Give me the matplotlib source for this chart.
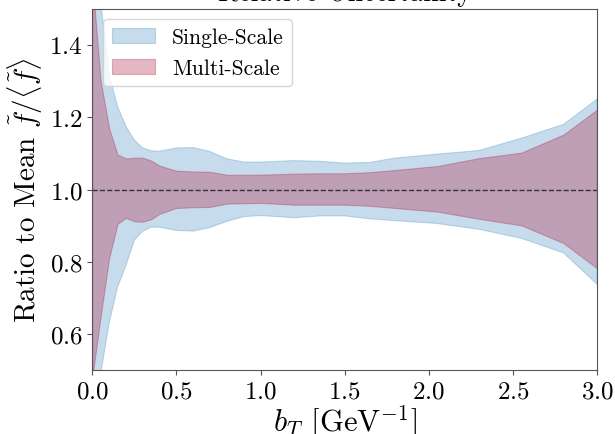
import matplotlib

matplotlib.use("Agg")
import matplotlib.pyplot as plt

# b_T grid [GeV^-1] and band edges (ratio to mean)
b_t = [0.0, 0.05, 0.1, 0.15, 0.2, 0.25, 0.3, 0.35, 0.4, 0.5, 0.6, 0.7, 0.8,
       0.9, 1.0, 1.2, 1.35, 1.5, 1.65, 1.8, 2.05, 2.3, 2.55, 2.8, 3.0]

single_hi = [1.75, 1.52, 1.32, 1.23, 1.175, 1.137, 1.115, 1.107, 1.106, 1.115,
             1.116, 1.105, 1.085, 1.076, 1.076, 1.08, 1.078, 1.073, 1.075,
             1.087, 1.098, 1.108, 1.142, 1.18, 1.25]
single_lo = [0.30, 0.49, 0.63, 0.73, 0.79, 0.86, 0.885, 0.896, 0.896, 0.887,
             0.885, 0.895, 0.912, 0.925, 0.928, 0.922, 0.927, 0.927, 0.919,
             0.914, 0.906, 0.89, 0.865, 0.825, 0.738]

multi_hi = [1.58, 1.30, 1.17, 1.097, 1.086, 1.088, 1.088, 1.08, 1.066, 1.052,
            1.05, 1.049, 1.041, 1.041, 1.041, 1.044, 1.045, 1.045, 1.048,
            1.054, 1.065, 1.087, 1.102, 1.152, 1.221]
multi_lo = [0.48, 0.65, 0.81, 0.905, 0.922, 0.912, 0.911, 0.918, 0.933, 0.949,
            0.951, 0.952, 0.961, 0.962, 0.963, 0.958, 0.958, 0.958, 0.955,
            0.949, 0.939, 0.919, 0.901, 0.852, 0.782]

plt.rcParams["font.family"] = "serif"
plt.rcParams["font.serif"] = ["cmr10"]
plt.rcParams["mathtext.fontset"] = "cm"
plt.rcParams["axes.formatter.use_mathtext"] = True

fig = plt.figure(figsize=(6.15, 4.35), dpi=100)
ax = fig.add_axes([0.150, 0.146, 0.821, 0.832])

ax.fill_between(b_t, single_lo, single_hi, color="#1f77b4", alpha=0.25,
                lw=0.8, label="Single-Scale")
ax.fill_between(b_t, multi_lo, multi_hi, color="#ac123a", alpha=0.3,
                lw=0.8, label="Multi-Scale")
ax.axhline(1.0, color="#333333", ls="--", lw=1.0)

ax.set_xlim(0, 3)
ax.set_ylim(0.5, 1.5)
ax.set_xticks([0.0, 0.5, 1.0, 1.5, 2.0, 2.5, 3.0])
ax.set_yticks([0.6, 0.8, 1.0, 1.2, 1.4])
ax.tick_params(labelsize=18, color="#555555")
for sp in ax.spines.values():
    sp.set_color("#555555")

ax.set_xlabel(r"$b_T$ [GeV$^{-1}$]", fontsize=22, labelpad=0)
ax.set_ylabel(r"Ratio to Mean $\tilde{f}/\langle\tilde{f}\rangle$", fontsize=21,
              labelpad=3)
ax.set_title("Relative Uncertainty", fontsize=20)
ax.legend(loc="upper left", fontsize=15.5, framealpha=0.8)

fig.savefig("out.png", dpi=100)
